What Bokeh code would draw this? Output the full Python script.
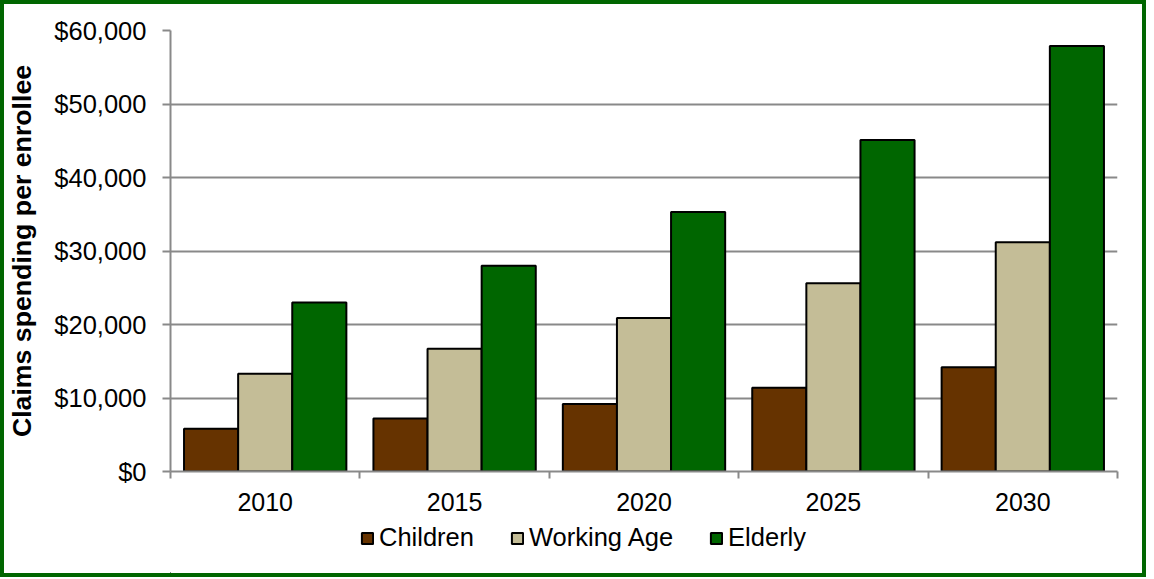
from bokeh.plotting import figure
from bokeh.models import (Range1d, FixedTicker, NumeralTickFormatter, Legend, LegendItem,
                          ColumnDataSource)
from bokeh.layouts import column
from bokeh.embed import file_html
from bokeh.resources import INLINE

years = ["2010", "2015", "2020", "2025", "2030"]
children = [5800, 7200, 9200, 11400, 14200]
working_age = [13300, 16700, 20900, 25600, 31200]
elderly = [23000, 28000, 35300, 45100, 57900]
series_names = ["Children", "Working Age", "Elderly"]
colors = ["#663300", "#C4BD97", "#006600"]

centers = [i + 0.5 for i in range(len(years))]
bw = 0.2857
FONT = "Liberation Sans"
GRID = "#898989"
W = 1138

p = figure(width=W, height=516, output_backend="svg", toolbar_location=None,
           x_range=Range1d(0, len(years)), y_range=Range1d(0, 60000),
           min_border_left=157, min_border_top=26, min_border_right=25, min_border_bottom=49)
p.outline_line_color = None
p.background_fill_color = "white"
p.border_fill_color = "white"

for k, (name, vals) in enumerate(zip(series_names, [children, working_age, elderly])):
    src = ColumnDataSource(dict(x=[c + (k - 1) * bw for c in centers], top=vals))
    p.vbar(x="x", top="top", width=bw, source=src, fill_color=colors[k],
           line_color="black", line_width=2)

# y axis
p.yaxis.ticker = FixedTicker(ticks=list(range(0, 60001, 10000)))
p.yaxis.formatter = NumeralTickFormatter(format="$0,0")
p.yaxis.axis_label = "Claims spending per enrollee"
p.yaxis.axis_label_text_font = FONT
p.yaxis.axis_label_text_font_style = "bold"
p.yaxis.axis_label_text_font_size = "26.7px"
p.yaxis.axis_label_text_color = "black"
p.yaxis.axis_label_standoff = 14
p.yaxis.major_label_text_font = FONT
p.yaxis.major_label_text_font_size = "25.5px"
p.yaxis.major_label_text_color = "black"
p.yaxis.major_label_standoff = 16
p.yaxis.major_tick_out = 8
p.yaxis.major_tick_in = 0
p.yaxis.minor_tick_line_color = None
p.yaxis.axis_line_color = GRID
p.yaxis.axis_line_width = 2
p.yaxis.major_tick_line_color = GRID
p.yaxis.major_tick_line_width = 2

# x axis
p.xaxis.ticker = FixedTicker(ticks=centers, minor_ticks=list(range(0, len(years) + 1)))
p.xaxis.major_label_overrides = {c: y for c, y in zip(centers, years)}
p.xaxis.major_label_text_font = FONT
p.xaxis.major_label_text_font_size = "25px"
p.xaxis.major_label_text_color = "black"
p.xaxis.major_label_standoff = 14
p.xaxis.major_tick_out = 0
p.xaxis.major_tick_in = 0
p.xaxis.major_tick_line_color = None
p.xaxis.minor_tick_out = 7
p.xaxis.minor_tick_in = 0
p.xaxis.minor_tick_line_color = GRID
p.xaxis.minor_tick_line_width = 2
p.xaxis.axis_line_color = GRID
p.xaxis.axis_line_width = 2

p.xgrid.grid_line_color = None
p.ygrid.grid_line_color = GRID
p.ygrid.grid_line_width = 2

# legend strip (its frame is aligned with the main plot's frame by the column)
p2 = figure(width=W, height=53, output_backend="svg", toolbar_location=None,
            x_range=Range1d(0, 1), y_range=Range1d(0, 1),
            x_axis_type=None, y_axis_type=None, min_border=0)
p2.outline_line_color = None
p2.grid.visible = False
p2.border_fill_color = "white"
dummies = []
for k, name in enumerate(series_names):
    # legend-key proxies placed far outside the visible range
    dummies.append(p2.vbar(x=[-50], bottom=[-50], top=[-49], width=0.1, fill_color=colors[k],
                           line_color="black", line_width=2))
legend = Legend(items=[LegendItem(label=n, renderers=[r]) for n, r in zip(series_names, dummies)],
                orientation="horizontal", location=(190, 21), border_line_color=None,
                label_text_font=FONT, label_text_font_size="25.5px",
                label_text_color="black",
                glyph_width=14, glyph_height=14, label_standoff=5, spacing=36,
                padding=0, margin=0, background_fill_alpha=0)
p2.add_layout(legend)

col = column(p, p2, spacing=0, styles={"border": "4px solid #006600", "background-color": "white"})

open("out.html", "w").write(file_html(col, INLINE))
